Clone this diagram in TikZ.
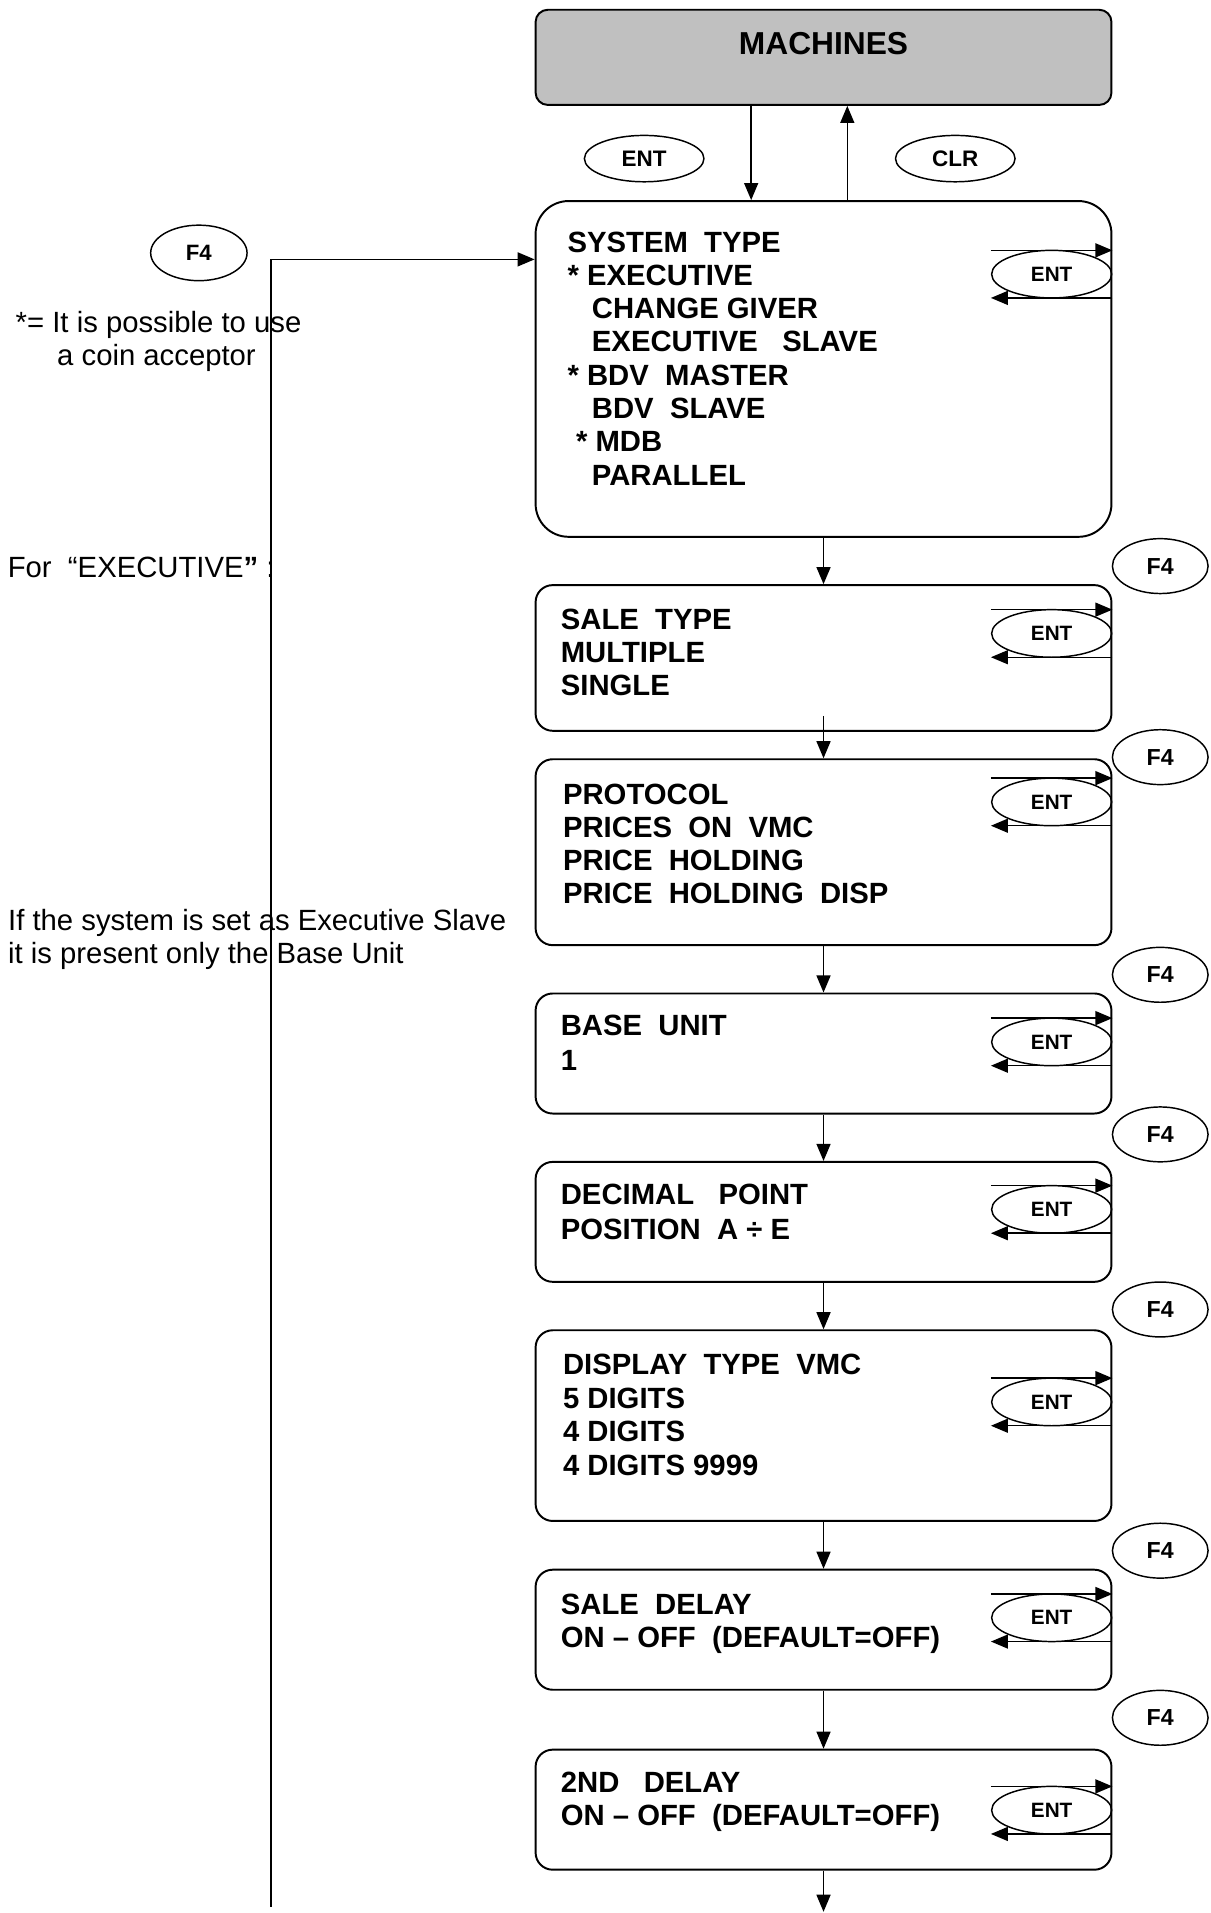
\documentclass[tikz,border=0pt]{standalone}
\usepackage{fontspec}
\setmainfont{Liberation Sans}
\usetikzlibrary{arrows.meta,shapes.geometric}
\definecolor{machgray}{RGB}{192,192,192}
\newcommand\entloop[1]{%
  \draw[tipline] ([yshift=19.5pt]#1.west) -- ([yshift=19.5pt]#1.east);
  \draw[tipline] ([yshift=-19.5pt]#1.east) -- ([yshift=-19.5pt]#1.west);}
\begin{document}
\begin{tikzpicture}[x=1pt,y=-1pt,
  tipline/.style={line width=1.2pt,-{Triangle[length=14pt,width=11.5pt]}},
  menubox/.style={draw, line width=1.6pt, rounded corners=14pt, minimum width=472pt, inner sep=0pt},
  menutext/.style={anchor=base west, align=left, inner sep=0pt, font=\fontsize{24}{#1}\selectfont\bfseries},
  keyent/.style={draw, ellipse, line width=1.2pt, minimum width=98.4pt, minimum height=39pt, inner sep=0pt, font=\fontsize{17}{17}\selectfont\bfseries},
  keytop/.style={draw, ellipse, line width=1.2pt, minimum width=98pt, minimum height=38pt, inner sep=0pt, font=\fontsize{18.4}{18.4}\selectfont\bfseries},
  keyf/.style={draw, ellipse, line width=1.2pt, minimum width=78.4pt, minimum height=45pt, inner sep=0pt, font=\fontsize{19}{19}\selectfont\bfseries},
  note/.style={anchor=base west, align=left, inner sep=0pt, font=\fontsize{24}{#1}\selectfont}
]
\useasboundingbox (0,0) rectangle (992,1568);

% top box
\node[menubox, minimum height=78pt, rounded corners=10pt, fill=machgray] (mach) at (675,47) {};
\node[anchor=base, inner sep=0pt, font=\fontsize{26}{26}\selectfont\bfseries] (machT) at (675,44.8) {MACHINES};
\node[keytop] (entTop) at (528,130) {ENT};
\node[keytop] (clrTop) at (783,130) {CLR};

% menu boxes
\node[menubox, minimum height=275.2pt, rounded corners=27pt] (sys) at (675,302.4) {};
\node[menubox, minimum height=119.4pt] (sale) at (675,539.3) {};
\node[menubox, minimum height=152.4pt] (proto) at (675,698.5) {};
\node[menubox, minimum height=98.4pt] (base) at (675,863.5) {};
\node[menubox, minimum height=98.3pt] (dec) at (675,1001.5) {};
\node[menubox, minimum height=156.3pt] (disp) at (675,1168.5) {};
\node[menubox, minimum height=98.4pt] (sdel) at (675,1335.8) {};
\node[menubox, minimum height=98.4pt] (dtwo) at (675,1483.3) {};

% menu texts (anchor = baseline of the last line)
\node[menutext={27.3}] (sysT) at (465,397.7) {SYSTEM\ \ TYPE\\
* EXECUTIVE\\
\hspace*{20pt}CHANGE GIVER\\
\hspace*{20pt}EXECUTIVE\ \ \ SLAVE\\
* BDV\ \ MASTER\\
\hspace*{20pt}BDV\ \ SLAVE\\
\hspace*{7pt}* MDB\\
\hspace*{20pt}PARALLEL};
\node[menutext={27.3}] (saleT) at (459.5,570.2) {SALE\ \ TYPE\\ MULTIPLE\\ SINGLE};
\node[menutext={27.3}] (protoT) at (461.3,740.9) {PROTOCOL\\ PRICES\ \ ON\ \ VMC\\ PRICE\ \ HOLDING\\ PRICE\ \ HOLDING\ \ DISP};
\node[menutext={28.7}] (baseT) at (459.5,877.6) {BASE\ \ UNIT\\ 1};
\node[menutext={28.7}] (decT) at (459.5,1015.6) {DECIMAL\ \ \ POINT\\ POSITION\ \ A ÷ E};
\node[menutext={27.8}] (dispT) at (461.3,1209.7) {DISPLAY\ \ TYPE\ \ VMC\\ 5 DIGITS\\ 4 DIGITS\\ 4 DIGITS 9999};
\node[menutext={27.4}] (sdelT) at (459.5,1350.4) {SALE\ \ DELAY\\ ON – OFF\ \ (DEFAULT=OFF)};
\node[menutext={27.3}] (dtwoT) at (459.5,1496.5) {2ND\ \ \ DELAY\\ ON – OFF\ \ (DEFAULT=OFF)};

% ENT keys inside boxes
\node[keyent] (entA) at (862,224.7) {ENT};
\node[keyent] (entB) at (862,519.2) {ENT};
\node[keyent] (entC) at (862,657.3) {ENT};
\node[keyent] (entD) at (862,854) {ENT};
\node[keyent] (entE) at (862,991.3) {ENT};
\node[keyent] (entF) at (862,1149.1) {ENT};
\node[keyent] (entG) at (862,1326) {ENT};
\node[keyent] (entH) at (862,1483.7) {ENT};
\entloop{entA}\entloop{entB}\entloop{entC}\entloop{entD}
\entloop{entE}\entloop{entF}\entloop{entG}\entloop{entH}

% F4 keys on the right
\node[keyf] (fB) at (951,464) {F4};
\node[keyf] (fC) at (951,620.6) {F4};
\node[keyf] (fD) at (951,799) {F4};
\node[keyf] (fE) at (951,929.8) {F4};
\node[keyf] (fF) at (951,1073.3) {F4};
\node[keyf] (fG) at (951,1271) {F4};
\node[keyf] (fH) at (951,1408) {F4};

% left F4 key and notes
\node[keyf, minimum width=79pt, minimum height=45.5pt, font=\fontsize{18.2}{18.2}\selectfont\bfseries] (fA) at (163,207.3) {F4};
\node[note={27.5}] (noteStar) at (12.7,299.8) {*= It is possible to use\\ \hspace*{34pt}a coin acceptor};
\node[note={28}] (noteExec) at (6.2,473.2) {For\ \ “EXECUTIVE{\bfseries ”} :};
\node[note={27}] (noteSlave) at (6.5,790) {If the system is set as Executive Slave\\ it is present only the Base Unit};

% connectors
\coordinate (xdown) at (615.7,0);
\coordinate (xup) at (694.5,0);
\draw[tipline] (mach.south -| xdown) -- (sys.north -| xdown);
\draw[tipline] (sys.north -| xup) -- (mach.south -| xup);
\draw[tipline] (sys.south) -- (sale.north);
\draw[tipline] ([yshift=13pt]sale.south) -- (proto.north);
\draw[tipline] (proto.south) -- (base.north);
\draw[tipline] (base.south) -- (dec.north);
\draw[tipline] (dec.south) -- (disp.north);
\draw[tipline] (disp.south) -- (sdel.north);
\draw[tipline] (sdel.south) -- (dtwo.north);
\coordinate (bottomEnd) at (675,1567);
\draw[tipline] (dtwo.south) -- (bottomEnd);
\coordinate (loopStart) at (222,1563);
\coordinate (loopCorner) at (222,212.6);
\draw[tipline] (loopStart) -- (loopCorner) -- (loopCorner -| sys.west);
\end{tikzpicture}
\end{document}
